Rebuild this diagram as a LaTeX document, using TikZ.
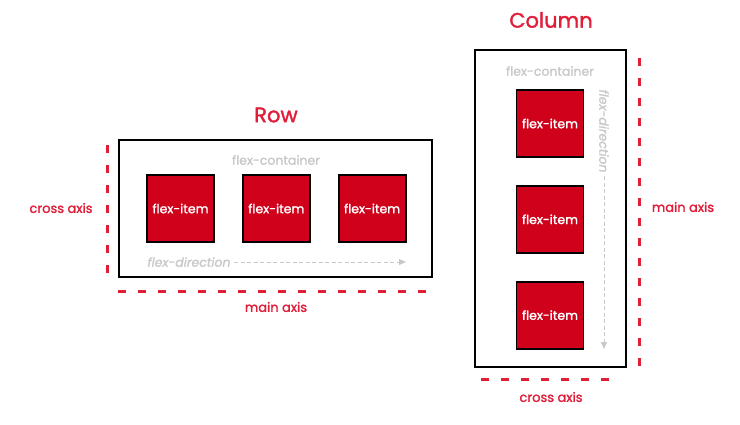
\documentclass[tikz,border=0pt]{standalone}
\usepackage{fontspec}
\setmainfont{Poppins}
\newfontfamily\labelfont{Poppins}[FakeBold=1.6]
\usetikzlibrary{arrows.meta, positioning}
\definecolor{itemred}{HTML}{D0021B}
\definecolor{axisred}{HTML}{DF1F3A}
\definecolor{hintgray}{HTML}{C8C8C8}

\begin{document}
\begin{tikzpicture}[
    x=1pt, y=-1pt,
    container/.style={draw, line width=2pt, inner sep=0pt},
    item/.style={draw=black, fill=itemred, line width=1.8pt, minimum size=67pt, inner sep=0pt,
                 text=white, font=\labelfont\fontsize{12.5}{14}\selectfont},
    hint/.style={text=hintgray, font=\labelfont\fontsize{12.5}{14}\selectfont},
    axis/.style={axisred, line width=3pt, dash pattern=on 8pt off 12pt},
    axislabel/.style={text=axisred, font=\labelfont\fontsize{13}{15}\selectfont},
    title/.style={text=axisred, font=\labelfont\fontsize{21}{25}\selectfont},
    darr/.style={-{Triangle[length=7pt, width=6pt]}, hintgray, line width=0.8pt, dash pattern=on 4pt off 2.5pt},
]
\useasboundingbox (0,0) rectangle (740,424);

% Row
\node[title] (rowtitle) at (276,115) {Row};
\node[container, minimum width=313pt, minimum height=137pt] (rowbox) at (275.5,208.5) {};
\node[hint] (rowlabel) at (276,160) {flex-container};

\node[item] (ritem1) at (180.5,208.5) {flex-item};
\node[item, right=27pt of ritem1] (ritem2) {flex-item};
\node[item, right=27pt of ritem2] (ritem3) {flex-item};

\node[hint, font=\labelfont\fontsize{12.5}{14}\selectfont\itshape] (rowdir) at (189,262) {flex-direction};
\coordinate (rowdirend) at (406,262);
\draw[darr] (rowdir) -- (rowdirend);

% Row axes
\coordinate (rmainA) at (118,291);
\coordinate (rmainB) at (428,291);
\draw[axis] (rmainA) -- (rmainB);
\node[axislabel] (rmainlabel) at (276,307) {main axis};

\coordinate (rcrossA) at (107,145);
\coordinate (rcrossB) at (107,274);
\draw[axis] (rcrossA) -- (rcrossB);
\node[axislabel] (rcrosslabel) at (61,208) {cross axis};

% Column
\node[title] (coltitle) at (551,20) {Column};
\node[container, minimum width=151pt, minimum height=317pt] (colbox) at (550.5,208.5) {};
\node[hint] (collabel) at (550,71) {flex-container};

\node[item] (citem1) at (550,123.5) {flex-item};
\node[item, below=27pt of citem1] (citem2) {flex-item};
\node[item, below=27pt of citem2] (citem3) {flex-item};

\node[hint, font=\labelfont\fontsize{12.5}{14}\selectfont\itshape, rotate=-90] (coldir) at (604,131) {flex-direction};
\coordinate (coldirend) at (604,349);
\draw[darr] (coldir) -- (coldirend);

% Column axes
\coordinate (cmainA) at (639,58);
\coordinate (cmainB) at (639,369);
\draw[axis] (cmainA) -- (cmainB);
\node[axislabel] (cmainlabel) at (683,207) {main axis};

\coordinate (ccrossA) at (481,379);
\coordinate (ccrossB) at (609,379);
\draw[axis] (ccrossA) -- (ccrossB);
\node[axislabel] (ccrosslabel) at (551,397) {cross axis};

\end{tikzpicture}
\end{document}
